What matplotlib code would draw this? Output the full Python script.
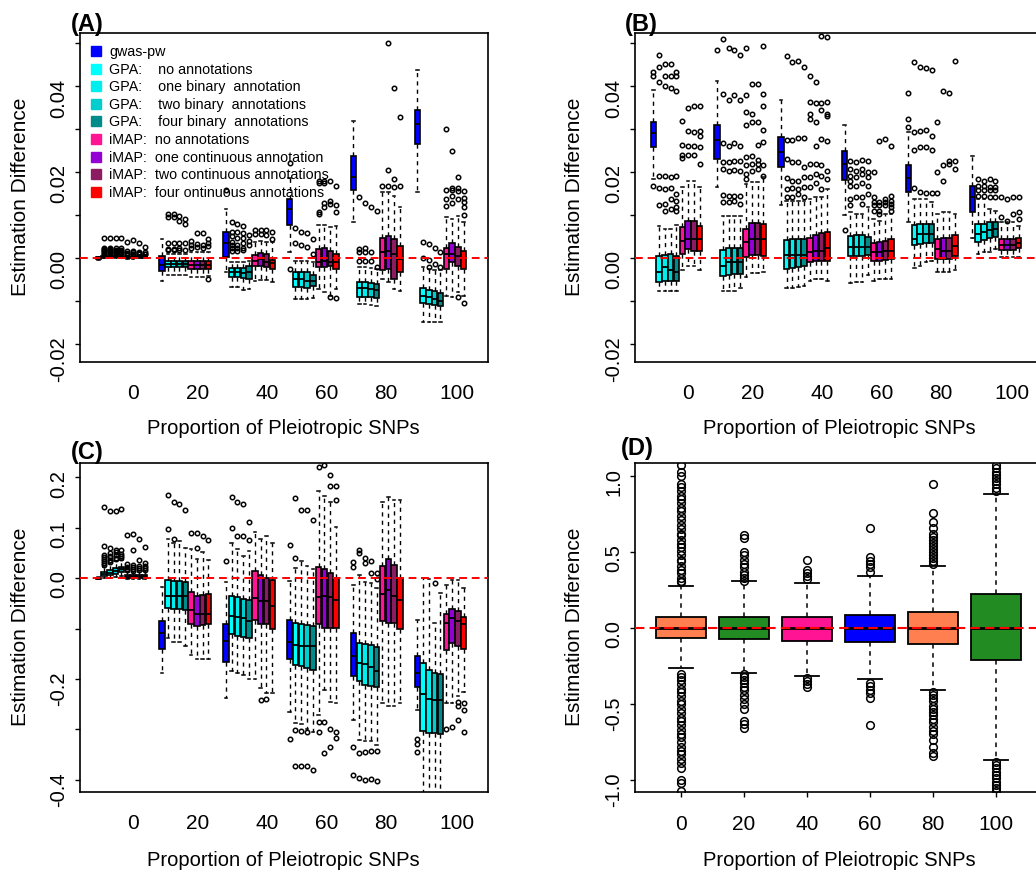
import numpy as np
import matplotlib.pyplot as plt
from matplotlib.lines import Line2D

plt.rcParams['font.family'] = ['Liberation Sans', 'DejaVu Sans']
plt.rcParams['axes.unicode_minus'] = False

W, H = 1036, 873

proportions = ['0', '20', '40', '60', '80', '100']
methods = ['gwas-pw',
           'GPA:    no annotations',
           'GPA:    one binary  annotation',
           'GPA:    two binary  annotations',
           'GPA:    four binary  annotations',
           'iMAP:  no annotations',
           'iMAP:  one continuous annotation',
           'iMAP:  two continuous annotations',
           'iMAP:  four ontinuous annotations']
method_colors = ['#0000FF', '#00FFFF', '#00EEEE', '#00CDCD', '#008B8B',
                 '#FF1493', '#9400D3', '#8B1C62', '#FF0000']

# (lower whisker, Q1, median, Q3, upper whisker) per proportion and method
# panel A, values in units of 1e-3
a_box = [
    [(-0.5, -0.25, 0.0, 0.1, 0.3), (-0.1, 0.0, 0.15, 0.35, 0.7), (0.0, 0.1, 0.3, 0.5, 0.9),
     (0.0, 0.15, 0.35, 0.55, 1.0), (0.0, 0.1, 0.3, 0.5, 0.9), (-0.2, 0.0, 0.1, 0.25, 0.5),
     (-0.2, 0.0, 0.15, 0.3, 0.6), (-0.1, 0.05, 0.2, 0.35, 0.7), (-0.1, 0.05, 0.2, 0.35, 0.6)],
    [(-5.3, -2.95, -1.55, 0.47, 4.4), (-3.9, -2.2, -1.5, -0.8, 0.9), (-3.9, -2.2, -1.5, -0.8, 0.9),
     (-3.9, -2.2, -1.5, -0.8, 0.9), (-3.9, -2.2, -1.5, -0.8, 0.9), (-4.5, -2.6, -1.6, -0.7, 1.3),
     (-4.5, -2.6, -1.6, -0.7, 1.3), (-4.5, -2.6, -1.6, -0.7, 1.3), (-4.3, -2.6, -1.6, -0.7, 1.3)],
    [(-3.2, 0.1, 3.5, 6.1, 11.4), (-6.8, -4.5, -3.3, -2.3, -1.0), (-6.8, -4.5, -3.3, -2.3, -1.0),
     (-7.4, -4.6, -3.5, -2.4, -1.0), (-7.2, -4.9, -3.3, -1.8, -0.8), (-5.3, -1.8, -0.6, 0.7, 3.6),
     (-5.1, -1.8, -0.2, 1.2, 4.0), (-5.1, -2.2, -1.0, 0.9, 3.6), (-5.5, -2.6, -1.2, -0.4, 3.6)],
    [(1.3, 7.75, 11.4, 13.7, 18.5), (-9.5, -6.8, -5.0, -3.2, -0.6), (-9.5, -6.8, -5.0, -3.2, -0.6),
     (-9.5, -7.1, -5.3, -3.3, -0.6), (-9.3, -6.6, -5.3, -4.0, -1.0), (-7.2, -2.2, -1.0, 2.1, 7.7),
     (-8.0, -2.2, -0.6, 2.2, 7.7), (-8.8, -1.8, -1.0, 1.7, 7.1), (-7.2, -2.6, -1.0, 0.9, 7.5)],
    [(8.4, 15.8, 18.9, 23.6, 31.9), (-10.7, -9.0, -7.1, -5.5, -2.2), (-10.7, -9.0, -7.1, -5.5, -2.2),
     (-10.9, -9.1, -7.3, -5.8, -2.4), (-11.2, -9.3, -7.4, -6.0, -2.6), (-5.0, -2.9, 1.3, 4.6, 15.3),
     (-5.7, -2.6, 1.7, 5.0, 15.3), (-7.2, -4.9, 0.9, 4.3, 14.5), (-7.6, -3.3, -0.2, 2.7, 11.8)],
    [(15.3, 26.5, 31.2, 34.5, 43.6), (-15.0, -10.5, -8.8, -7.1, -2.2), (-15.0, -10.7, -9.1, -7.4, -2.6),
     (-15.0, -11.0, -9.5, -7.8, -2.8), (-15.0, -11.2, -9.9, -8.1, -2.9), (-8.8, -2.6, 0.9, 2.2, 9.5),
     (-9.1, -1.0, 0.9, 3.5, 9.1), (-8.0, -1.8, 0.5, 2.6, 9.8), (-8.8, -2.6, -0.1, 1.6, 8.3)],
]
a_out = [
    [[], [0.8, 1.0, 1.3, 1.5, 1.8, 2.0, 2.3, 4.7], [1.1, 1.3, 1.6, 1.8, 2.1, 2.3, 4.7],
     [1.2, 1.4, 1.7, 1.9, 2.3, 4.7], [1.1, 1.4, 1.6, 1.9, 2.3, 4.7], [0.7, 0.9, 1.2, 1.5, 3.8],
     [0.8, 1.0, 1.3, 1.5, 4.2], [0.9, 1.1, 1.4, 3.4], [0.8, 1.0, 1.3, 2.5]],
    [[], [1.9, 2.1, 3.5, 9.6, 10.2], [1.9, 2.1, 3.5, 9.6, 10.2], [1.9, 2.2, 3.5, 8.7, 9.8],
     [1.9, 3.4, 7.9, 9.1], [2.2, 2.9, 4.0], [2.5, 3.3, 5.8], [2.2, 3.0, 5.8], [2.7, 3.5, 4.4, -5.0]],
    [[15.9], [1.5, 2.2, 3.0, 3.8, 5.0, 6.1, 8.3], [1.6, 2.4, 3.0, 4.6, 6.0, 7.9],
     [1.8, 2.4, 3.5, 4.6, 5.7, 7.4], [2.9, 4.0, 5.3], [5.6, 6.6], [5.6, 6.6], [5.3, 6.6], [4.4, 6.0]],
    [[22.0, -2.6], [3.5, 6.9], [2.9, 6.1], [2.5, 5.7], [0.9, 4.3], [10.2, 10.6, 17.4, 17.9],
     [11.8, 12.8, 17.4, 17.8], [12.6, 13.2, 17.9, -9.0], [10.6, 12.2, 16.8, -9.3]],
    [[], [-0.6, 1.3, 2.1, 14.1], [-0.8, 1.4, 2.2, 12.8], [-0.6, 1.4, 11.8], [-2.0, 11.0],
     [16.7], [16.7, 20.5, 49.9], [16.4, 18.4, 39.5], [16.7, 32.7]],
    [[], [0.0, 3.8], [-2.2, -0.5, 3.3], [-1.4, 2.3], [-2.2, 1.3], [12.1, 13.6, 15.8, 30.0],
     [12.8, 14.5, 15.7, 16.3, 24.9], [13.6, 15.5, 16.3, 18.8, -9.2],
     [10.0, 11.8, 12.9, 14.0, 15.5, -10.5]],
]

# panel B, values in units of 1e-3
b_box = [
    [(18.4, 25.9, 29.0, 31.6, 39.1), (-7.6, -5.5, -3.2, 0.4, 7.5), (-7.6, -5.3, -2.2, 0.7, 6.7),
     (-7.6, -5.3, -2.9, 0.9, 6.7), (-7.6, -5.3, -3.2, 0.4, 7.7), (-2.7, 0.9, 4.0, 7.1, 16.4),
     (-1.8, 2.1, 4.3, 8.7, 18.0), (-1.8, 1.7, 4.3, 8.7, 18.0), (-2.7, 1.7, 4.3, 7.5, 16.4)],
    [(16.4, 22.9, 27.5, 30.8, 41.2), (-7.6, -4.1, -1.8, 1.9, 9.8), (-7.6, -4.0, -1.0, 2.2, 9.8),
     (-7.6, -3.8, -0.9, 2.2, 9.8), (-7.1, -3.8, -0.9, 2.2, 9.8), (-4.5, 0.2, 3.6, 6.7, 17.2),
     (-3.5, 0.7, 4.5, 8.1, 17.6), (-3.5, 0.7, 4.3, 8.1, 17.6), (-3.3, 0.5, 4.3, 7.9, 18.9)],
    [(12.2, 21.1, 24.7, 28.2, 36.8), (-7.1, -2.6, 0.7, 4.2, 13.3), (-7.1, -2.4, 0.7, 4.3, 13.3),
     (-6.8, -2.2, 0.7, 4.3, 13.3), (-6.6, -1.9, 0.7, 4.3, 13.3), (-5.3, -1.0, 1.3, 4.6, 13.7),
     (-5.0, -0.6, 1.7, 5.4, 14.1), (-5.0, -0.6, 1.7, 5.7, 14.1), (-5.3, -0.6, 2.2, 6.1, 16.0)],
    [(10.0, 18.1, 21.9, 24.8, 30.8), (-5.8, 0.5, 2.6, 5.0, 10.6), (-5.7, 0.5, 2.6, 5.3, 10.2),
     (-5.7, 0.5, 2.6, 5.3, 10.2), (-4.0, 0.7, 2.6, 4.8, 11.8), (-5.3, -0.6, 1.3, 3.5, 9.1),
     (-4.9, -0.6, 1.3, 3.8, 8.7), (-4.9, -0.5, 1.7, 4.0, 10.2), (-4.9, -0.2, 1.7, 4.3, 10.2)],
    [(8.4, 15.4, 18.5, 21.5, 29.2), (-2.4, 3.0, 4.4, 7.7, 13.7), (-1.8, 3.3, 5.6, 7.9, 13.7),
     (-1.0, 3.4, 5.6, 7.9, 13.7), (-0.6, 3.4, 5.6, 7.9, 12.9), (-3.2, -0.2, 2.1, 4.4, 10.2),
     (-3.2, -0.2, 1.7, 4.6, 10.6), (-3.2, -0.2, 1.7, 4.6, 10.6), (-2.9, 0.4, 2.7, 5.3, 10.2)],
    [(4.6, 10.6, 14.1, 16.8, 23.6), (0.9, 3.8, 5.6, 7.9, 13.7), (1.3, 4.2, 6.1, 7.9, 13.7),
     (1.3, 4.6, 6.5, 8.3, 11.4), (2.1, 4.8, 6.7, 8.3, 11.0), (0.2, 1.9, 2.9, 4.3, 8.3),
     (0.2, 1.9, 2.9, 4.3, 8.3), (0.2, 1.9, 2.9, 4.3, 8.4), (0.2, 2.2, 3.5, 4.6, 7.5)],
]
b_out = [
    [[16.8, 42.4, 43.3], [12.2, 16.2, 19.1, 40.9, 44.3, 47.3], [11.0, 12.6, 16.0, 19.0, 39.9, 42.4, 45.1],
     [11.4, 13.6, 16.2, 18.8, 39.5, 42.2, 45.1], [11.0, 11.8, 13.3, 14.9, 19.1, 38.7, 42.2, 43.2],
     [23.2, 24.0, 26.3, 31.9], [24.0, 26.0, 29.5, 34.9], [24.0, 26.1, 29.2, 35.4],
     [21.9, 25.7, 28.3, 29.6, 35.4]],
    [[48.4], [12.9, 14.7, 20.7, 22.2, 26.7, 38.1, 50.8], [12.9, 14.5, 20.3, 22.2, 26.1, 36.8, 48.8],
     [13.3, 14.5, 20.5, 22.6, 26.7, 37.8, 48.4], [12.6, 14.5, 20.3, 22.6, 26.1, 36.8, 47.2],
     [18.4, 19.5, 21.5, 23.4, 30.8, 33.9, 37.8, 48.8], [20.1, 21.9, 23.8, 31.7, 33.5, 40.5],
     [20.7, 21.9, 22.8, 26.3, 31.7, 40.5], [19.1, 21.5, 26.9, 29.8, 35.4, 38.0, 49.2]],
    [[], [14.1, 16.0, 18.6, 22.9, 27.4, 46.9], [14.1, 16.2, 18.0, 22.2, 27.4, 45.5],
     [14.9, 16.0, 18.0, 22.2, 27.8, 45.9], [14.1, 16.4, 18.8, 21.1, 27.8, 44.3],
     [16.4, 18.8, 21.9, 32.3, 33.5, 36.2, 42.4], [17.4, 19.5, 21.9, 26.0, 31.6, 36.0, 40.9],
     [16.0, 19.1, 21.5, 27.7, 34.3, 36.0, 51.7], [18.4, 20.1, 27.3, 33.1, 33.5, 36.2, 51.3]],
    [[6.5], [12.2, 13.7, 16.8, 18.0, 19.1, 20.7, 22.6], [14.1, 16.8, 18.8, 20.1, 22.2],
     [12.6, 14.1, 17.4, 19.5, 20.7, 22.8], [14.9, 16.7, 18.8, 19.9, 22.6],
     [11.0, 12.2, 13.0, 14.1, 19.9], [10.2, 11.0, 12.2, 13.0, 27.3], [12.2, 13.0, 13.7, 27.7],
     [11.0, 11.8, 12.6, 13.3, 14.5, 26.0]],
    [[30.4, 32.3, 38.3], [16.3, 25.0, 29.2, 45.5], [15.4, 25.7, 29.5, 44.5], [15.1, 25.9, 29.8, 44.1],
     [15.1, 25.0, 28.3, 43.6], [15.1, 19.9, 31.6], [18.0, 21.5, 38.7], [21.9, 22.6, 38.3],
     [20.7, 22.6, 45.9]],
    [[], [14.5, 15.7, 16.8, 18.4], [14.5, 15.7, 16.8, 18.0], [14.1, 15.7, 16.4, 18.4],
     [14.1, 15.7, 16.4, 18.0], [9.5, 14.1], [8.7, 13.7], [10.2, 14.1], [9.1, 10.6, 14.1]],
]

# panel C, values as they are
c_box = [
    [(-0.002, -0.001, 0.0, 0.001, 0.002), (0.000, 0.004, 0.008, 0.012, 0.022),
     (0.000, 0.006, 0.010, 0.016, 0.028), (0.002, 0.009, 0.014, 0.020, 0.034),
     (0.004, 0.012, 0.017, 0.022, 0.036), (-0.001, 0.001, 0.003, 0.006, 0.012),
     (-0.001, 0.001, 0.003, 0.006, 0.011), (-0.001, 0.001, 0.003, 0.006, 0.012),
     (-0.001, 0.001, 0.004, 0.007, 0.013)],
    [(-0.189, -0.141, -0.109, -0.086, -0.017), (-0.119, -0.059, -0.035, -0.003, 0.077),
     (-0.127, -0.061, -0.035, -0.005, 0.070), (-0.127, -0.061, -0.035, -0.005, 0.073),
     (-0.134, -0.064, -0.035, -0.007, 0.059), (-0.152, -0.092, -0.063, -0.028, 0.057),
     (-0.160, -0.096, -0.071, -0.035, 0.038), (-0.160, -0.094, -0.071, -0.033, 0.051),
     (-0.160, -0.092, -0.071, -0.032, 0.036)],
    [(-0.238, -0.166, -0.125, -0.092, -0.007), (-0.185, -0.110, -0.076, -0.035, 0.069),
     (-0.188, -0.114, -0.077, -0.038, 0.057), (-0.192, -0.116, -0.079, -0.042, 0.044),
     (-0.201, -0.119, -0.086, -0.044, 0.053), (-0.201, -0.083, -0.040, 0.013, 0.092),
     (-0.218, -0.092, -0.046, 0.007, 0.077), (-0.228, -0.092, -0.046, 0.000, 0.084),
     (-0.228, -0.101, -0.055, -0.003, 0.069)],
    [(-0.266, -0.160, -0.127, -0.083, -0.005), (-0.288, -0.172, -0.132, -0.089, 0.020),
     (-0.290, -0.175, -0.134, -0.091, 0.033), (-0.300, -0.178, -0.134, -0.094, 0.023),
     (-0.306, -0.182, -0.135, -0.096, 0.017), (-0.271, -0.092, -0.038, 0.022, 0.172),
     (-0.221, -0.099, -0.035, 0.018, 0.162), (-0.246, -0.099, -0.038, 0.010, 0.150),
     (-0.248, -0.099, -0.044, 0.000, 0.102)],
    [(-0.281, -0.195, -0.155, -0.108, -0.013), (-0.321, -0.205, -0.168, -0.129, 0.007),
     (-0.323, -0.211, -0.170, -0.131, -0.007), (-0.323, -0.213, -0.176, -0.132, -0.010),
     (-0.330, -0.216, -0.185, -0.137, -0.020), (-0.248, -0.086, -0.032, 0.023, 0.150),
     (-0.254, -0.089, -0.023, 0.038, 0.160), (-0.254, -0.089, -0.035, 0.026, 0.154),
     (-0.248, -0.101, -0.044, 0.000, 0.154)],
    [(-0.261, -0.216, -0.188, -0.154, -0.083), (-0.470, -0.304, -0.230, -0.168, 0.000),
     (-0.460, -0.308, -0.240, -0.182, -0.002), (-0.455, -0.308, -0.242, -0.188, -0.089),
     (-0.450, -0.310, -0.242, -0.191, -0.030), (-0.248, -0.143, -0.089, -0.071, -0.013),
     (-0.248, -0.129, -0.079, -0.061, -0.003), (-0.234, -0.134, -0.086, -0.065, -0.003),
     (-0.226, -0.141, -0.092, -0.077, -0.020)],
]
c_out = [
    [[], [0.026, 0.029, 0.034, 0.037, 0.042, 0.046, 0.063, 0.141],
     [0.031, 0.035, 0.041, 0.044, 0.050, 0.059, 0.133], [0.037, 0.040, 0.046, 0.051, 0.055, 0.133],
     [0.039, 0.043, 0.048, 0.055, 0.137], [0.015, 0.018, 0.022, 0.027, 0.085],
     [0.014, 0.017, 0.021, 0.026, 0.055, 0.088], [0.015, 0.019, 0.023, 0.035, 0.078],
     [0.016, 0.020, 0.024, 0.029, 0.062]],
    [[], [0.097, 0.164], [0.077, 0.150], [0.147], [0.134], [0.090], [0.059, 0.090], [0.084], [0.075]],
    [[0.033], [0.099, 0.160], [0.084, 0.150], [0.084, 0.147], [0.075, 0.112], [],
     [-0.242], [-0.240], []],
    [[0.065, -0.319], [0.040, 0.158, -0.302, -0.373], [0.135, -0.304, -0.373], [0.135, -0.306, -0.373],
     [0.116, -0.380], [0.221, -0.286, -0.306], [0.224, -0.286, -0.347], [0.183, 0.205, -0.300, -0.335],
     [0.154, 0.182, -0.306, -0.317]],
    [[0.022, 0.031, -0.335, -0.391], [0.050, 0.055, -0.347, -0.396], [0.030, 0.040, -0.345, -0.401],
     [0.010, 0.033, -0.343, -0.398], [-0.002, 0.010, -0.343, -0.403], [], [], [], []],
    [[-0.319, -0.328, -0.345], [], [], [-0.009], [], [-0.299], [-0.296],
     [-0.246, -0.254, -0.281], [-0.248, -0.261, -0.306]],
]

# panel D, one box per proportion
d_colors = ['#FF7F50', '#228B22', '#FF1493', '#0000FF', '#FF7F50', '#228B22']
d_box = [(-0.263, -0.064, 0.0, 0.074, 0.278), (-0.296, -0.074, 0.0, 0.074, 0.309),
         (-0.318, -0.086, 0.0, 0.074, 0.298), (-0.338, -0.094, 0.0, 0.088, 0.342),
         (-0.410, -0.103, 0.0, 0.107, 0.406), (-0.870, -0.210, 0.0, 0.224, 0.884)]
d_out = [
    [0.30, 0.31, 0.33, 0.36, 0.38, 0.41, 0.44, 0.45, 0.48, 0.51, 0.53, 0.55, 0.58, 0.61, 0.62,
     0.65, 0.68, 0.71, 0.74, 0.77, 0.79, 0.82, 0.85, 0.87, 0.90, 0.93, 0.95, 1.00, 1.03, 1.07,
     -0.30, -0.32, -0.34, -0.37, -0.40, -0.42, -0.45, -0.48, -0.50, -0.53, -0.56, -0.59, -0.61,
     -0.64, -0.67, -0.70, -0.72, -0.75, -0.78, -0.81, -0.83, -0.86, -0.89, -0.92, -1.00, -1.02, -1.07],
    [0.31, 0.33, 0.35, 0.37, 0.40, 0.42, 0.45, 0.48, 0.50, 0.59, 0.61,
     -0.30, -0.32, -0.34, -0.36, -0.39, -0.41, -0.44, -0.47, -0.50, -0.53, -0.61, -0.63, -0.66],
    [0.32, 0.34, 0.36, 0.38, 0.45, -0.33, -0.35, -0.37, -0.39],
    [0.37, 0.40, 0.42, 0.44, 0.47, 0.66, -0.36, -0.38, -0.41, -0.43, -0.46, -0.64],
    [0.42, 0.44, 0.46, 0.48, 0.50, 0.52, 0.54, 0.56, 0.58, 0.60, 0.62, 0.66, 0.70, 0.76, 0.95,
     -0.42, -0.44, -0.46, -0.48, -0.51, -0.53, -0.55, -0.57, -0.60, -0.62, -0.65, -0.68, -0.70,
     -0.74, -0.78, -0.82, -0.84],
    [0.90, 0.92, 0.95, 0.97, 0.99, 1.01, 1.03, 1.05, 1.07,
     -0.88, -0.90, -0.92, -0.95, -0.97, -0.99, -1.01, -1.03, -1.05, -1.07],
]

label_pos = [6.0, 17.2, 29.1, 39.4, 49.6, 61.8]

fig = plt.figure(figsize=(W / 100, H / 100), dpi=100)


def rect(left, top, right, bottom):
    return [left / W, 1 - bottom / H, (right - left) / W, (bottom - top) / H]


def put(x, y, s, **kw):
    fig.text(x / W, 1 - y / H, s, ha='center', va='center', **kw)


def style_axes(ax):
    for sp in ax.spines.values():
        sp.set_linewidth(1.2)
    ax.tick_params(axis='y', length=3.5, width=1, pad=5, labelsize=14.5, labelrotation=90)


def bstat(s, f, scale):
    lo, q1, med, q3, hi = s
    return dict(whislo=lo * scale, q1=q1 * scale, med=med * scale, q3=q3 * scale,
                whishi=hi * scale, fliers=np.array(f) * scale)


def grouped_panel(ax, box, out, scale, ylim, yticks, ylabels):
    stats, pos, cols = [], [], []
    for g in range(len(proportions)):
        for k in range(len(methods)):
            stats.append(bstat(box[g][k], out[g][k], scale))
            pos.append(g * 11 + k)
            cols.append(method_colors[k])
    bp = ax.bxp(stats, positions=pos, widths=0.92, patch_artist=True,
                boxprops=dict(edgecolor='black', linewidth=1.2),
                medianprops=dict(color='black', linewidth=1.3),
                whiskerprops=dict(color='black', linestyle=(0, (3, 3)), linewidth=1.0),
                capprops=dict(color='black', linewidth=1.1),
                flierprops=dict(marker='o', markersize=3.2, markerfacecolor='none',
                                markeredgecolor='black', markeredgewidth=1.1))
    for patch, c in zip(bp['boxes'], cols):
        patch.set_facecolor(c)
    ax.axhline(0, color='red', linestyle=(0, (4, 2.5)), linewidth=1.4, zorder=5)
    ax.set_xlim(-3.15, 67.2)
    ax.set_ylim(*ylim)
    ax.set_yticks(yticks, ylabels)
    ax.set_xticks(label_pos, proportions)
    ax.tick_params(axis='x', length=0, pad=16, labelsize=15)
    style_axes(ax)


ab_ticks = [-0.02, -0.01, 0.0, 0.01, 0.02, 0.03, 0.04, 0.05]
ab_labels = ['-0.02', '', '0.00', '', '0.02', '', '0.04', '']

ax_a = fig.add_axes(rect(80, 33, 488, 362))
grouped_panel(ax_a, a_box, a_out, 1e-3, (-0.0242, 0.0523), ab_ticks, ab_labels)
handles = [Line2D([], [], marker='s', linestyle='none', markersize=6.5,
                  markerfacecolor=c, markeredgecolor=c) for c in method_colors]
ax_a.legend(handles, methods, loc='upper left', bbox_to_anchor=(0.0, 1.0), frameon=False,
            fontsize=10.3, handlelength=0.6, handletextpad=0.6, labelspacing=0.25,
            borderaxespad=0.4, borderpad=0.45)

ax_b = fig.add_axes(rect(635, 33, 1043, 362))
grouped_panel(ax_b, b_box, b_out, 1e-3, (-0.0242, 0.0523), ab_ticks, ab_labels)

ax_c = fig.add_axes(rect(80, 463, 488, 792))
grouped_panel(ax_c, c_box, c_out, 1.0, (-0.424, 0.228),
              [-0.4, -0.3, -0.2, -0.1, 0.0, 0.1, 0.2],
              ['-0.4', '', '-0.2', '', '0.0', '0.1', '0.2'])

ax_d = fig.add_axes(rect(635, 463, 1043, 792))
bp = ax_d.bxp([bstat(s, f, 1.0) for s, f in zip(d_box, d_out)], positions=range(1, 7),
              widths=0.78, patch_artist=True,
              boxprops=dict(edgecolor='black', linewidth=1.3),
              medianprops=dict(color='black', linewidth=2),
              whiskerprops=dict(color='black', linestyle=(0, (3, 3)), linewidth=1.1),
              capprops=dict(color='black', linewidth=1.3),
              flierprops=dict(marker='o', markersize=5.5, markerfacecolor='none',
                              markeredgecolor='black', markeredgewidth=1.1))
for patch, c in zip(bp['boxes'], d_colors):
    patch.set_facecolor(c)
ax_d.axhline(0, color='red', linestyle=(0, (4.5, 2.5)), linewidth=1.5, zorder=5)
ax_d.set_xlim(0.27, 6.746)
ax_d.set_ylim(-1.079, 1.086)
ax_d.set_yticks([-1.0, -0.5, 0.0, 0.5, 1.0], ['-1.0', '-0.5', '0.0', '0.5', '1.0'])
ax_d.set_xticks(range(1, 7), proportions)
ax_d.tick_params(axis='x', length=3.5, width=1, pad=13, labelsize=15)
style_axes(ax_d)

# panel letters and axis titles
for x, y, s in [(87, 24, '(A)'), (641, 24, '(B)'), (87, 452, '(C)'), (637, 449, '(D)')]:
    put(x, y, s, fontsize=17, fontweight='bold')
for x, y in [(283, 428), (839, 428), (283, 860), (839, 860)]:
    put(x, y, 'Proportion of Pleiotropic SNPs', fontsize=14.5)
for x, y in [(21, 197), (575, 197), (21, 627), (575, 627)]:
    put(x, y, 'Estimation Difference', fontsize=15, rotation=90)

fig.savefig('out.png', dpi=100)
